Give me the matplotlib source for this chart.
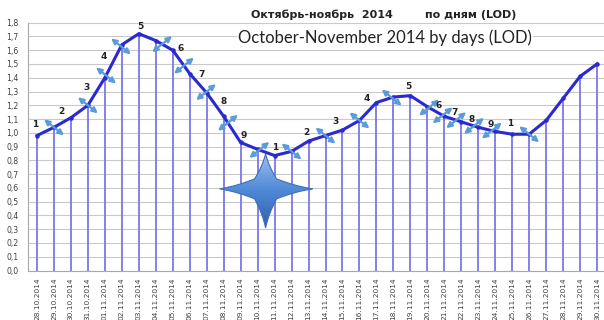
import numpy as np
import pandas as pd
import matplotlib
matplotlib.use('Agg')
import matplotlib.pyplot as plt
from matplotlib.patches import PathPatch
from matplotlib.path import Path

# Daily LOD values, 28.10.2014 - 30.11.2014
dates = pd.date_range('2014-10-28', '2014-11-30').strftime('%d.%m.%Y').tolist()
lod = [0.98, 1.04, 1.11, 1.20, 1.40, 1.64, 1.72, 1.67, 1.60, 1.43,
       1.29, 1.12, 0.93, 0.88, 0.835, 0.865, 0.94, 0.98, 1.02, 1.09,
       1.22, 1.26, 1.27, 1.19, 1.12, 1.08, 1.04, 1.01, 0.99, 0.99,
       1.09, 1.25, 1.41, 1.50]

# wave counts: text, position along x (day index) and height
wave_text = ['1', '2', '3', '4', '5', '6', '7', '8', '9',
             '1', '2', '3', '4', '5', '6', '7', '8', '9', '1']
wave_x = [-0.12, 1.41, 2.89, 3.95, 6.07, 8.49, 9.72, 11.02, 12.2,
          14.02, 15.9, 17.56, 19.45, 21.86, 23.69, 24.63, 25.63, 26.75, 27.87]
wave_y = [1.058, 1.153, 1.327, 1.553, 1.771, 1.611, 1.422, 1.225, 0.978,
          0.891, 1.0, 1.08, 1.247, 1.335, 1.196, 1.145, 1.095, 1.058, 1.065]

# double arrows sitting on the curve: day index and slant
arrow_pos = [1.0, 3.0, 4.07, 4.95, 7.37, 8.66, 9.96, 11.25, 13.1, 15.0,
             17.0, 19.0, 20.9, 23.1, 23.9, 24.7, 25.75, 26.8, 29.0]
arrow_dir = ['\\', '\\', '\\', '\\', '/', '/', '/', '/', '/', '\\',
             '\\', '\\', '\\', '/', '/', '/', '/', '/', '\\']

x = np.arange(len(lod))
px_x, px_y = 1 / 16.97, 1 / 137.5   # one pixel in data units

fig = plt.figure(figsize=(6.04, 3.2), dpi=100)
ax = fig.add_axes([28 / 604, 49.5 / 320, 576 / 604, 247.8 / 320])

# grid
ax.set_yticks(np.arange(0, 1.81, 0.1))
ax.set_yticklabels([f'{v:.1f}'.replace('.', ',') for v in np.arange(0, 1.81, 0.1)],
                   fontsize=5.6, color='#404040')
ax.grid(axis='y', color='#c9c9c9', lw=0.8)
ax.set_axisbelow(True)
ax.tick_params(axis='y', length=0, pad=7)

ax.set_xticks(x)
ax.set_xticklabels(dates, rotation=90, fontsize=5.3, color='#404040')
ax.tick_params(axis='x', length=0, pad=5)

for s in ['top', 'right']:
    ax.spines[s].set_visible(False)
for s in ['left', 'bottom']:
    ax.spines[s].set_color('#a8a8a8')
    ax.spines[s].set_linewidth(0.8)

# drop lines and curve
ax.vlines(x, 0, lod, colors='#7b76e6', lw=1.3, zorder=2)
ax.plot(x, lod, color='#2a2ad0', lw=2.2, marker='o', ms=2.2, zorder=3)

for t, wx, wy in zip(wave_text, wave_x, wave_y):
    ax.text(wx, wy, t, fontsize=6.5, fontweight='bold', color='#222222',
            ha='center', va='center', zorder=5)

# arrows, half length in pixels
dx, dy = 10 * px_x, 8 * px_y
for p, d in zip(arrow_pos, arrow_dir):
    y = np.interp(p, x, lod)
    if d == '\\':
        a, b = (p - dx, y + dy), (p + dx, y - dy)
    else:
        a, b = (p - dx, y - dy), (p + dx, y + dy)
    ax.annotate('', xy=b, xytext=a,
                arrowprops=dict(arrowstyle='<|-|>', color='#5a9bd8', lw=1.6,
                                mutation_scale=8, shrinkA=0, shrinkB=0),
                zorder=4)

# four-pointed star (built in pixels, then scaled), vertical gradient fill
cx, cy = 13.47, 0.593
tips = [(47, 0), (0, 35), (-46, 0), (0, -39)]
inner = [(11, 10), (-11, 10), (-11, -10), (11, -10)]


def side_ctrl(tip, pt):
    # control point of a slightly concave side, pulled toward the arm axis
    mx, my = (tip[0] + pt[0]) / 2, (tip[1] + pt[1]) / 2
    if tip[1] == 0:
        return (mx, my * 0.55)
    return (mx * 0.55, my)


verts, codes = [tips[0]], [Path.MOVETO]
for i in range(4):
    nxt = tips[(i + 1) % 4]
    verts += [side_ctrl(tips[i], inner[i]), inner[i], side_ctrl(nxt, inner[i]), nxt]
    codes += [Path.CURVE3] * 4
verts = np.array(verts, float)
verts[:, 0] = cx + verts[:, 0] * px_x
verts[:, 1] = cy + verts[:, 1] * px_y
star = PathPatch(Path(verts, codes), facecolor='none', edgecolor='#3f6fb8',
                 lw=0.8, zorder=7)
ax.add_patch(star)
grad = np.linspace(0, 1, 256).reshape(-1, 1)
cmap = matplotlib.colors.LinearSegmentedColormap.from_list('star', ['#9cc2f0', '#4f88d6', '#2f60b0'])
im = ax.imshow(grad, cmap=cmap, aspect='auto', origin='upper',
               extent=[cx - 46 * px_x, cx + 47 * px_x, cy - 39 * px_y, cy + 35 * px_y],
               zorder=6)
im.set_clip_path(star)
ax.set_xlim(-0.53, 33.41)
ax.set_ylim(0, 1.8)

# titles
fig.text(322 / 604, 1 - 15 / 320, 'Октябрь-ноябрь  2014', fontsize=8, fontweight='bold',
         color='#222222', ha='center', va='center')
fig.text(471 / 604, 1 - 15 / 320, 'по дням (LOD)', fontsize=8, fontweight='bold',
         color='#222222', ha='center', va='center')
fig.text(385 / 604, 1 - 38 / 320, 'October-November 2014 by days (LOD)', fontsize=12,
         family='Lato', color='#222222', ha='center', va='center',
         bbox=dict(facecolor='white', edgecolor='none', pad=1))

fig.savefig('out.png', dpi=100)
